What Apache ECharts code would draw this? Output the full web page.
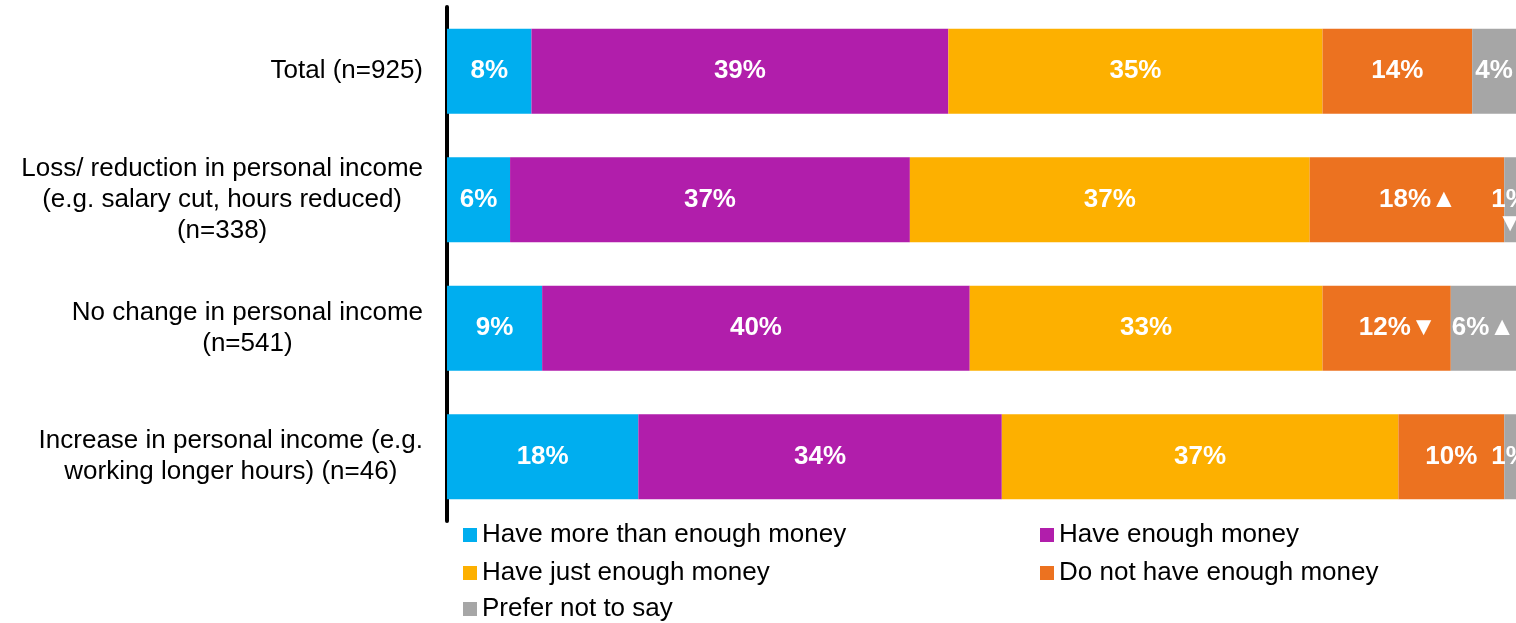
<!DOCTYPE html>
<html>
<head>
<meta charset="utf-8">
<script src="https://cdn.jsdelivr.net/npm/echarts@6/dist/echarts.min.js"></script>
<style>
html,body{margin:0;padding:0;background:#fff;}
#chart{width:1516px;height:623px;}
</style>
</head>
<body>
<div id="chart"></div>
<script>
const categories = [
  'Total (n=925)',
  'Loss/ reduction in personal income\n(e.g. salary cut, hours reduced)\n(n=338)',
  'No change in personal income\n(n=541)',
  'Increase in personal income (e.g.\nworking longer hours) (n=46)'
];
const seriesNames = [
  'Have more than enough money',
  'Have enough money',
  'Have just enough money',
  'Do not have enough money',
  'Prefer not to say'
];
const moreThanEnough = [7.9, 5.9, 8.9, 17.9];
const enough = [39.0, 37.4, 40.0, 34.0];
const justEnough = [35.0, 37.4, 33.0, 37.1];
const notEnough = [14.0, 18.2, 12.0, 9.9];
const preferNot = [4.1, 1.1, 6.1, 1.1];
// significance markers appended to labels
const noSig = ['', '', '', ''];
const notEnoughSig = ['', '▲', '▼', ''];
const preferNotSig = ['', '\n▼', '▲', ''];

const colors = ['#00AEEF', '#B11EAB', '#FDB000', '#EC7220', '#A6A6A6'];
const FONT = '"Liberation Sans", Arial, sans-serif';

const values = [moreThanEnough, enough, justEnough, notEnough, preferNot];
const sigs = [noSig, noSig, noSig, notEnoughSig, preferNotSig];

const series = values.map((vals, si) => ({
  name: seriesNames[si],
  type: 'bar',
  stack: 'total',
  barCategoryGap: '33.7%',
  itemStyle: { color: colors[si] },
  label: {
    show: true,
    position: 'inside',
    color: '#fff',
    fontFamily: FONT,
    fontWeight: 'bold',
    fontSize: 26,
    lineHeight: 24,
    formatter: p => Math.round(p.value) + '%' + sigs[si][p.dataIndex]
  },
  data: vals.map((v, i) => {
    const d = { value: v };
    const s = sigs[si][i];
    if (s.charAt(0) === '\n') d.label = { offset: [0, 12] };
    else if (s && si === 3) d.label = { offset: [11, 0] };
    return d;
  })
}));

const legendText = { fontFamily: FONT, fontSize: 26, lineHeight: 25, color: '#000' };
function makeLegend(names, left, top) {
  return {
    data: names,
    orient: 'vertical', left: left, top: top, padding: 0,
    icon: 'rect', itemWidth: 14, itemHeight: 14, itemGap: 12,
    textStyle: legendText,
    selectedMode: false
  };
}

const chart = echarts.init(document.getElementById('chart'), null, { renderer: 'canvas' });
chart.setOption({
  animation: false,
  backgroundColor: '#fff',
  textStyle: { fontFamily: FONT },
  grid: { left: 447, right: 0, top: 7, bottom: 102, containLabel: false },
  xAxis: {
    type: 'value', min: 0, max: 100, show: false
  },
  yAxis: {
    type: 'category',
    inverse: true,
    data: categories,
    axisTick: { show: false },
    axisLine: { show: true, lineStyle: { color: '#000', width: 4 } },
    axisLabel: {
      margin: 24,
      align: 'right',
      color: '#000',
      fontFamily: FONT,
      fontSize: 26,
      lineHeight: 31,
      formatter: v => v.split('\n').map(l => '{c|' + l + '}').join('\n'),
      rich: {
        c: { align: 'center', fontSize: 26, lineHeight: 31, fontFamily: FONT, color: '#000' }
      }
    }
  },
  legend: [
    makeLegend([seriesNames[0], seriesNames[2]], 463, 522),
    makeLegend([seriesNames[1], seriesNames[3]], 1040, 522),
    makeLegend([seriesNames[4]], 463, 596)
  ],
  series: series
});
</script>
</body>
</html>
